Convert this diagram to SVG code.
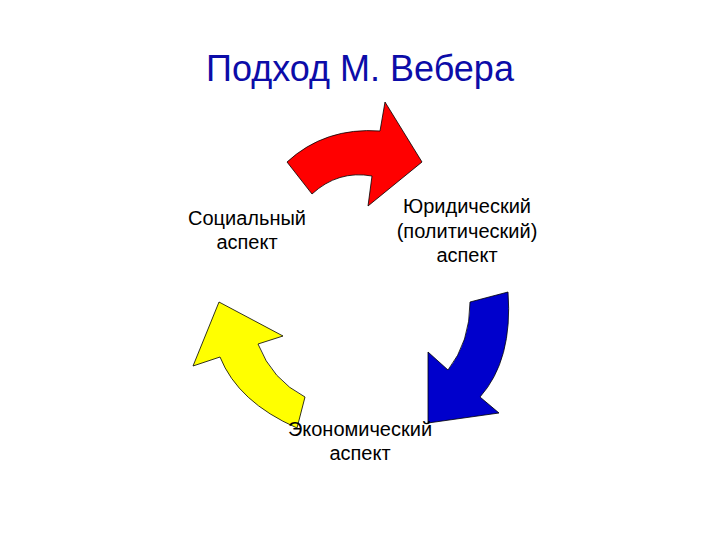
<svg xmlns="http://www.w3.org/2000/svg" width="720" height="540" viewBox="0 0 720 540">
<style>
text{font-family:"Liberation Sans",Arial,sans-serif;fill:#000;text-anchor:middle}
.title{font-size:36px;fill:#0c0ca8}
.lbl{font-size:20px}
.arr{stroke:#000;stroke-width:0.8;stroke-linejoin:miter}
</style>
<rect width="720" height="540" fill="#fff"/>
<text class="title" x="360" y="81">Подход М. Вебера</text>
<g id="connectors">
<path id="arrow-red" class="arr" fill="#ff0000" d="M287,162 Q325,127 380,131 L385,102 L422,162 L368,206 L372,176 Q338,170 312,194 Z"/>
<path id="arrow-blue" class="arr" fill="#0000cc" d="M470,302 L508,292 Q513,360 480,397 L499,413 L428,423 L428,352 L448,370 Q470,342 470,302 Z"/>
<path id="arrow-yellow" class="arr" fill="#ffff00" d="M219,302 L283,336 L258,344 Q272,380 305,397 L297,428 Q238,402 220,357 L193,366 Z"/>
</g>
<g id="node-social">
<text class="lbl" x="247" y="225">Социальный</text>
<text class="lbl" x="247" y="249">аспект</text>
</g>
<g id="node-legal">
<text class="lbl" x="467" y="213">Юридический</text>
<text class="lbl" x="467" y="238">(политический)</text>
<text class="lbl" x="467" y="262">аспект</text>
</g>
<g id="node-economic">
<text class="lbl" x="360" y="436">Экономический</text>
<text class="lbl" x="360" y="460">аспект</text>
</g>
</svg>
